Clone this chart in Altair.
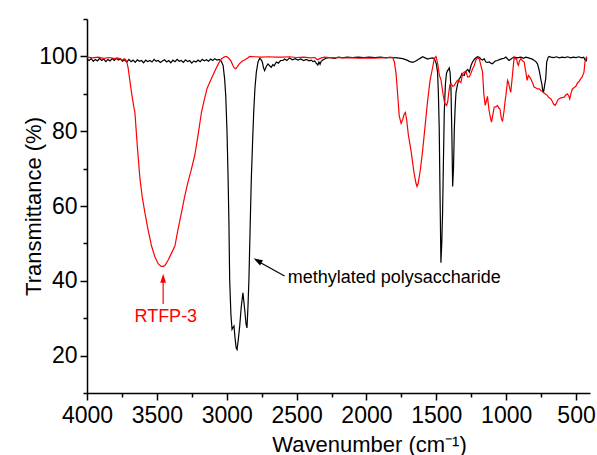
import altair as alt
import pandas as pd

# ---- data ----
black_wn = [4000, 3985, 3970, 3955, 3940, 3925, 3910, 3895, 3880, 3865, 3850, 3835, 3820, 3805, 3790, 3775,
            3760, 3745, 3730, 3715, 3700, 3685, 3670, 3655, 3640, 3625, 3610, 3595, 3580, 3565, 3550, 3535,
            3520, 3505, 3490, 3475, 3460, 3445, 3430, 3415, 3400, 3385, 3370, 3355, 3340, 3325, 3310, 3295,
            3280, 3265, 3250, 3235, 3220, 3205, 3190, 3175, 3160, 3145, 3130, 3115, 3100, 3085, 3070, 3055,
            3040, 3026, 3015, 3007, 2998, 2990, 2984, 2979, 2970, 2962, 2955, 2948, 2940, 2932, 2926, 2918,
            2907, 2896, 2884, 2876, 2869, 2862, 2855, 2848, 2841, 2832, 2824, 2815, 2807, 2798, 2788, 2776,
            2764, 2755, 2745, 2737, 2729, 2717, 2705, 2693, 2681, 2670, 2660, 2645, 2630, 2615, 2598, 2585,
            2570, 2550, 2530, 2510, 2490, 2470, 2450, 2430, 2410, 2395, 2383, 2370, 2360, 2348, 2340, 2332,
            2324, 2310, 2288, 2260, 2230, 2200, 2170, 2140, 2100, 2060, 2020, 1980, 1940, 1900, 1860, 1820,
            1780, 1740, 1710, 1690, 1669, 1650, 1630, 1610, 1598, 1580, 1560, 1545, 1526, 1514, 1500, 1491,
            1485, 1479, 1473, 1467, 1461, 1455, 1449, 1443, 1435, 1427, 1419, 1407, 1401, 1395, 1389, 1383,
            1377, 1371, 1365, 1359, 1348, 1336, 1326, 1317, 1308, 1300, 1292, 1284, 1275, 1264, 1252, 1241,
            1225, 1205, 1190, 1180, 1169, 1158, 1145, 1133, 1121, 1110, 1098, 1086, 1075, 1062, 1045, 1026,
            1015, 1002, 990, 979, 965, 955, 943, 920, 895, 875, 859, 840, 824, 810, 800, 790,
            776, 765, 757, 750, 745, 738, 733, 729, 722, 717, 713, 710, 700, 693, 680, 660,
            640, 620, 600, 580, 560, 540, 520, 500, 480, 460, 445, 435, 428, 422]
black_t = [99.3, 98.9, 99.4, 98.7, 99.2, 98.8, 99.5, 98.9, 99.3, 98.6, 99.2, 98.8, 99.4, 98.9, 99.5, 99.0,
           99.3, 98.7, 99.1, 98.5, 99.2, 98.6, 99.0, 98.4, 99.1, 98.7, 98.9, 98.3, 99.0, 98.6, 98.9, 98.5,
           99.2, 98.7, 98.9, 98.4, 98.8, 99.1, 98.5, 98.9, 98.3, 99.0, 98.6, 99.2, 98.7, 98.9, 98.4, 99.1,
           98.6, 98.9, 98.2, 98.8, 98.5, 99.0, 98.6, 99.2, 98.8, 99.1, 98.7, 99.3, 98.9, 99.4, 99.0, 99.2,
           98.8, 97.6, 94.0, 89.5, 80.0, 67.2, 55.0, 40.5, 31.0, 27.0, 27.5, 27.9, 24.5, 22.0, 21.6, 24.0,
           27.9, 33.0, 36.8, 34.0, 31.4, 28.5, 27.4, 33.0, 40.4, 55.0, 67.2, 77.0, 85.0, 91.5, 95.8, 98.5,
           99.5, 99.2, 98.5, 97.0, 96.2, 97.3, 98.0, 97.5, 97.1, 97.8, 97.5, 98.5, 98.2, 98.9, 98.9, 99.3,
           98.9, 99.6, 99.1, 99.4, 99.0, 99.3, 98.9, 99.2, 98.8, 99.0, 98.6, 98.8, 98.2, 97.7, 98.5, 97.9,
           98.7, 99.1, 99.5, 99.7, 99.5, 99.8, 99.6, 99.8, 99.7, 99.8, 99.7, 99.8, 99.7, 99.8, 99.6, 99.7,
           99.6, 99.4, 99.0, 98.6, 98.4, 98.7, 99.2, 99.6, 99.9, 99.6, 99.3, 99.5, 99.6, 99.4, 98.0, 95.8,
           90.0, 80.6, 62.0, 44.8, 50.0, 58.3, 72.0, 85.0, 92.5, 95.5, 96.2, 96.9, 95.5, 91.3, 80.0, 65.2,
           70.0, 80.6, 86.5, 90.4, 92.5, 94.0, 94.5, 95.4, 95.0, 94.9, 95.8, 96.2, 96.5, 95.8, 97.5, 98.5,
           99.4, 99.9, 99.7, 99.2, 99.0, 99.4, 98.5, 98.4, 98.5, 98.2, 98.0, 98.5, 98.8, 98.9, 99.2, 99.4,
           99.5, 99.8, 99.3, 98.9, 99.3, 99.6, 99.8, 99.6, 99.8, 99.5, 99.8, 99.6, 99.4, 99.2, 98.9, 98.7,
           98.0, 96.5, 94.9, 93.5, 92.7, 90.8, 90.5, 91.2, 93.0, 94.0, 96.5, 98.5, 99.7, 100.0, 99.8, 99.7,
           99.9, 99.6, 99.8, 99.7, 99.9, 99.6, 99.8, 99.7, 99.9, 99.6, 99.8, 99.0, 98.8, 99.5]

red_wn = [4000, 3960, 3920, 3880, 3840, 3800, 3780, 3760, 3745, 3735, 3725, 3715, 3705, 3695, 3680, 3665,
          3657, 3640, 3621, 3605, 3586, 3565, 3538, 3515, 3490, 3470, 3455, 3440, 3420, 3400, 3371, 3350,
          3325, 3300, 3280, 3255, 3229, 3205, 3181, 3160, 3140, 3110, 3080, 3060, 3038, 3015, 3002, 2985,
          2970, 2955, 2945, 2936, 2925, 2910, 2890, 2870, 2850, 2836, 2800, 2750, 2700, 2650, 2600, 2550,
          2500, 2450, 2400, 2370, 2350, 2335, 2320, 2300, 2250, 2200, 2150, 2100, 2050, 2000, 1950, 1900,
          1850, 1830, 1812, 1800, 1788, 1775, 1765, 1752, 1740, 1730, 1721, 1712, 1700, 1681, 1660, 1645,
          1638, 1630, 1615, 1598, 1580, 1562, 1545, 1526, 1514, 1502, 1490, 1478, 1466, 1450, 1440, 1426,
          1418, 1410, 1402, 1395, 1383, 1371, 1360, 1348, 1336, 1324, 1312, 1300, 1288, 1276, 1264, 1252,
          1240, 1229, 1217, 1205, 1193, 1181, 1169, 1160, 1150, 1142, 1134, 1124, 1115, 1105, 1095, 1086,
          1074, 1062, 1053, 1045, 1035, 1026, 1015, 1008, 1002, 990, 983, 975, 967, 955, 943, 935,
          926, 918, 912, 905, 895, 885, 871, 865, 859, 850, 841, 832, 824, 812, 800, 790,
          776, 764, 750, 740, 729, 717, 705, 695, 681, 670, 660, 650, 640, 630, 621, 610,
          598, 586, 575, 562, 553, 545, 535, 526, 515, 506, 498, 490, 480, 467, 458, 450,
          443, 440, 436, 431, 426, 421]
red_t = [99.8, 99.6, 99.8, 99.5, 99.7, 99.4, 99.6, 99.3, 99.0, 99.4, 99.2, 98.5, 96.8, 94.0, 90.0, 86.5,
         85.0, 76.0, 67.3, 62.5, 58.3, 54.0, 49.3, 46.5, 44.5, 43.9, 43.8, 44.2, 45.5, 47.0, 49.3, 53.5,
         58.0, 62.7, 66.0, 69.5, 73.5, 79.0, 85.0, 88.5, 91.5, 94.0, 96.5, 98.0, 99.4, 99.9, 100.0, 99.5,
         98.8, 97.5, 96.9, 96.7, 97.2, 98.0, 98.7, 99.1, 99.6, 100.0, 99.9, 99.8, 99.9, 99.8, 99.8, 99.9,
         99.7, 99.8, 99.6, 99.7, 99.1, 99.4, 99.6, 99.8, 99.6, 99.7, 99.6, 99.6, 99.5, 99.6, 99.5, 99.6,
         99.7, 99.8, 99.7, 98.5, 95.4, 89.0, 84.0, 82.1, 83.2, 84.6, 85.0, 83.0, 79.0, 74.8, 69.0, 66.0,
         65.2, 66.0, 69.5, 74.8, 81.5, 88.2, 93.5, 97.1, 99.5, 100.0, 98.0, 95.0, 93.6, 89.5, 87.5, 86.9,
         88.0, 90.5, 92.5, 92.7, 92.0, 92.2, 93.0, 93.6, 93.4, 93.0, 95.4, 95.8, 96.0, 94.5, 94.5, 95.5,
         96.7, 97.5, 99.0, 99.6, 99.4, 97.6, 95.8, 90.0, 86.9, 88.0, 89.3, 86.0, 84.0, 82.4, 84.5, 86.4,
         86.5, 86.9, 86.2, 86.0, 83.5, 82.6, 85.5, 88.0, 89.5, 93.6, 93.0, 91.5, 90.4, 95.0, 99.8, 99.3,
         99.4, 98.0, 97.6, 98.8, 99.4, 98.9, 98.5, 97.0, 95.8, 93.6, 94.9, 94.5, 94.0, 93.0, 91.8, 91.6,
         91.3, 91.3, 90.8, 90.6, 90.2, 89.9, 89.5, 89.0, 88.7, 88.0, 87.2, 86.9, 87.5, 88.4, 88.7, 88.9,
         89.0, 89.1, 89.6, 90.0, 89.5, 88.6, 90.3, 91.3, 91.6, 91.9, 92.2, 92.9, 93.2, 94.0, 94.4, 95.1,
         95.8, 97.0, 98.5, 99.2, 99.8, 99.6]

x_major = [4000, 3500, 3000, 2500, 2000, 1500, 1000, 500]
x_minor = [3750, 3250, 2750, 2250, 1750, 1250, 750]
y_major = [20, 40, 60, 80, 100]
y_minor = [10, 30, 50, 70, 90, 110]

FONT = "Liberation Sans"

df = pd.concat([
    pd.DataFrame({"wn": black_wn, "t": black_t, "s": "methylated"}),
    pd.DataFrame({"wn": red_wn, "t": red_t, "s": "RTFP-3"}),
])

xscale = alt.Scale(domain=[400, 4000], reverse=True, nice=False, zero=False)
yscale = alt.Scale(domain=[10, 110], nice=False, zero=False)

x_axis = alt.Axis(values=x_major, format="d", tickSize=7, tickWidth=1.5, domainWidth=1.5,
                  domainColor="black", tickColor="black", labelFont=FONT, labelFontSize=23,
                  labelColor="black", labelPadding=4, grid=False, orient="bottom",
                  title="Wavenumber (cm\u207b\u00b9)", titleFont=FONT, titleFontSize=22,
                  titleFontWeight="normal", titleColor="black", titleX=282, titleY=58,
                  titleBaseline="alphabetic", titleAlign="center", labelFlush=False)
y_axis = alt.Axis(values=y_major, format="d", tickSize=7, tickWidth=1.5, domainWidth=1.5,
                  domainColor="black", tickColor="black", labelFont=FONT, labelFontSize=23,
                  labelColor="black", labelPadding=3, grid=False, orient="left",
                  title="Transmittance (%)", titleFont=FONT, titleFontSize=22,
                  titleFontWeight="normal", titleColor="black", titleX=-47, titleY=187,
                  titleBaseline="alphabetic", titleAlign="center", titleAngle=-90)

lines = alt.Chart(df).mark_line(strokeWidth=1.2).encode(
    x=alt.X("wn:Q", scale=xscale, axis=x_axis),
    y=alt.Y("t:Q", scale=yscale, axis=y_axis),
    color=alt.Color("s:N", scale=alt.Scale(domain=["methylated", "RTFP-3"],
                                            range=["#000000", "#ff0000"]), legend=None),
    detail="s:N",
)

minor = alt.Chart(df).mark_line(opacity=0).encode(
    x=alt.X("wn:Q", scale=xscale,
            axis=alt.Axis(values=x_minor, labels=False, tickSize=4, tickWidth=1.5, domain=False,
                          tickColor="black", grid=False, title=None, orient="bottom")),
    y=alt.Y("t:Q", scale=yscale,
            axis=alt.Axis(values=y_minor, labels=False, tickSize=4, tickWidth=1.5, domain=False,
                          tickColor="black", grid=False, title=None, orient="left")),
)

# annotations
ann_text = pd.DataFrame({"wn": [3436, 2564], "t": [30.3, 40.7],
                         "label": ["RTFP-3", "methylated polysaccharide"]})
red_txt = alt.Chart(ann_text.iloc[[0]]).mark_text(font=FONT, fontSize=18, color="#ff0000",
                                                  align="center", baseline="middle").encode(
    x=alt.X("wn:Q", scale=xscale), y=alt.Y("t:Q", scale=yscale), text="label:N")
blk_txt = alt.Chart(ann_text.iloc[[1]]).mark_text(font=FONT, fontSize=18, color="#000000",
                                                  align="left", baseline="middle").encode(
    x=alt.X("wn:Q", scale=xscale), y=alt.Y("t:Q", scale=yscale), text="label:N")

red_arrow = pd.DataFrame({"x1": [3455], "y1": [33.8], "x2": [3455], "y2": [40.5]})
blk_arrow = pd.DataFrame({"x1": [2586], "y1": [41.3], "x2": [2790], "y2": [45.5]})

red_line = alt.Chart(red_arrow).mark_rule(color="#ff0000", strokeWidth=1.2).encode(
    x=alt.X("x1:Q", scale=xscale), y=alt.Y("y1:Q", scale=yscale), x2="x2:Q", y2="y2:Q")
blk_line = alt.Chart(blk_arrow).mark_rule(color="#000000", strokeWidth=1.2).encode(
    x=alt.X("x1:Q", scale=xscale), y=alt.Y("y1:Q", scale=yscale), x2="x2:Q", y2="y2:Q")

head_path = "M0,-1L0.65,1L-0.65,1Z"
red_head = alt.Chart(pd.DataFrame({"x": [3455], "y": [40.7]})).mark_point(
    shape=head_path, size=81, filled=True, color="#ff0000", opacity=1, angle=0).encode(
    x=alt.X("x:Q", scale=xscale), y=alt.Y("y:Q", scale=yscale))
blk_head = alt.Chart(pd.DataFrame({"x": [2779], "y": [45.4]})).mark_point(
    shape=head_path, size=81, filled=True, color="#000000", opacity=1, angle=300).encode(
    x=alt.X("x:Q", scale=xscale), y=alt.Y("y:Q", scale=yscale))

main = alt.layer(lines, red_txt, blk_txt, red_line, blk_line, red_head, blk_head)

chart = alt.layer(main, minor).resolve_axis(x="independent", y="independent").properties(
    width=503, height=374,
    autosize=alt.AutoSizeParams(type="none"),
    padding={"left": 87, "top": 19, "right": 7, "bottom": 62},
    background="white",
).configure_view(stroke=None)

chart.save("out.html", embed_options={"renderer": "svg", "actions": False})
